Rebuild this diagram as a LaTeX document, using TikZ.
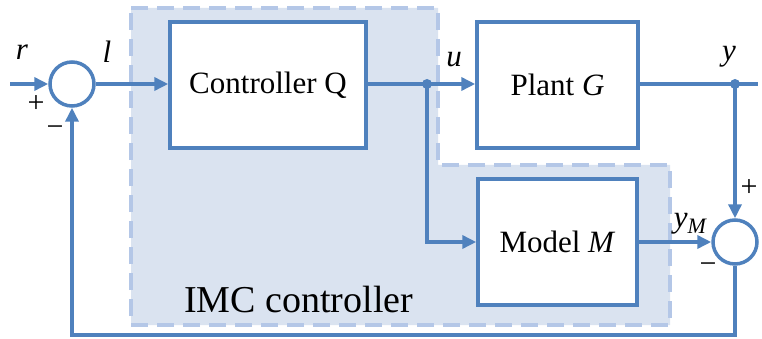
\documentclass[tikz,border=0pt]{standalone}
\usepackage{fontspec}
\setmainfont{Liberation Serif}
\usetikzlibrary{arrows.meta}
\definecolor{wire}{HTML}{4F81BD}
\definecolor{imcfill}{HTML}{DAE3F0}
\definecolor{imcedge}{HTML}{B4C7E7}
\tikzset{
  wire/.style={draw=wire, line width=3.5pt},
  sig/.style={wire, -{Triangle[length=14pt,width=13pt]}},
  block/.style={draw=wire, line width=3.5pt, fill=white, inner sep=0pt,
    font=\fontsize{31}{36}\selectfont},
  summer/.style={draw=wire, line width=3.5pt, circle, fill=white, minimum size=44pt, inner sep=0pt},
  lbl/.style={font=\fontsize{31}{36}\selectfont\itshape, inner sep=0pt},
  sgn/.style={font=\fontsize{30}{34}\selectfont, inner sep=0pt},
  dot/.style={circle, fill=wire, minimum size=10pt, inner sep=0pt},
}
\begin{document}
\begin{tikzpicture}[x=1pt, y=-1pt]
\useasboundingbox (0,0) rectangle (762,339);

% IMC controller region
\draw[fill=imcfill, draw=imcedge, line width=3.5pt, dash pattern=on 17pt off 9pt]
  (131,8) -- (438,8) -- (438,165) -- (670,165) -- (670,325) -- (131,325) -- cycle;
\node[font=\fontsize{38}{44}\selectfont, anchor=west, inner sep=0pt] (imc) at (184,300) {IMC controller};

% blocks
\node[block, minimum width=196pt, minimum height=126pt] (ctrl) at (268,85) {Controller Q};
\node[block, minimum width=161pt, minimum height=126pt] (plant) at (557.5,85) {Plant \textit{G}};
\node[block, minimum width=159pt, minimum height=126pt] (model) at (557.5,242) {Model \textit{M}};

% summing junctions
\node[summer] (s1) at (72,84) {};
\node[summer] (s2) at (735,242) {};

% branch points and free ends
\node[dot] (du) at (427,84) {};
\node[dot] (dy) at (735,84) {};
\coordinate (rin) at (10,84);
\coordinate (yout) at (758,84);
\coordinate (fbR) at (735,335);
\coordinate (fbL) at (72,335);

% signals
\draw[sig] (rin) -- (s1.west);
\draw[sig] (s1.east) -- (ctrl.west |- s1.east);
\draw[sig] (ctrl.east |- du) -- (plant.west |- du);
\draw[sig] (du.center) |- (model.west);
\draw[wire] (plant.east |- dy) -- (yout);
\draw[sig] (dy.center) -- (s2.north);
\draw[sig] (model.east) -- (s2.west);
\draw[sig] (s2.south) -- (fbR) -- (fbL) -- (s1.south);

% labels
\node[lbl] (r) at (22,52) {r};
\node[lbl] (l) at (107,52) {l};
\node[lbl] (u) at (454,60) {u};
\node[lbl] (y) at (729,57) {y};
\node[lbl] (yM) at (690,224) {y\raisebox{-6pt}{\fontsize{22}{24}\selectfont M}};
\node[sgn] (p1) at (36,104) {+};
\node[sgn] (m1) at (55,131) {\textminus};
\node[sgn] (p2) at (749,188) {+};
\node[sgn] (m2) at (708,268) {\textminus};
\end{tikzpicture}
\end{document}
